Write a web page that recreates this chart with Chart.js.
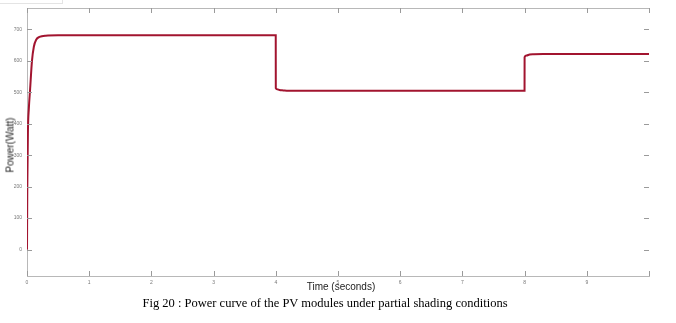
<!DOCTYPE html>
<html>
<head>
<meta charset="utf-8">
<script src="https://cdn.jsdelivr.net/npm/chart.js@4.4.1/dist/chart.umd.min.js"></script>
<style>
html,body{margin:0;padding:0;background:#fff;}
#wrap{position:relative;width:676px;height:323px;overflow:hidden;}
#c{position:absolute;left:0;top:0;}
.t{position:absolute;white-space:nowrap;}
#xt{font:10px "Liberation Sans",Arial,sans-serif;color:#222;left:341px;top:281px;transform:translateX(-50%);}
#yt{font:10px "Liberation Sans",Arial,sans-serif;color:#222;left:10px;top:145px;transform:translate(-50%,-50%) rotate(-90deg);}
#cap{font:12.5px "Liberation Serif","Times New Roman",serif;color:#000;left:325px;top:296px;transform:translateX(-50%);}
#box{position:absolute;left:-1px;top:-20px;width:62px;height:22px;border:1px solid #e4e4e4;}
</style>
</head>
<body>
<div id="wrap">
<canvas id="c" width="676" height="323"></canvas>
<div id="box"></div>
<div class="t" id="xt">Time (seconds)</div>
<div class="t" id="yt">Power(Watt)</div>
<div class="t" id="cap">Fig 20 : Power curve of the PV modules under partial shading conditions</div>
</div>
<script>
const timeSec = [0, 0.005, 0.015, 0.03, 0.05, 0.08, 0.11, 0.15, 0.2, 0.3, 0.5, 3.999, 4.0, 4.02, 4.06, 4.12, 4.2, 4.4, 7.999, 8.0, 8.03, 8.08, 8.15, 8.3, 10];
const powerW  = [0, 200, 377, 450, 510, 600, 645, 668, 676, 680, 681, 681, 513, 510, 507, 506, 505, 505, 505, 612, 617, 620, 621, 622, 622];
const xTicks = [0,1,2,3,4,5,6,7,8,9,10];
const yTicks = [0,100,200,300,400,500,600,700];

const points = timeSec.map((t,i)=>({x:t,y:powerW[i]}));

const innerTicks = {
  id:'innerTicks',
  afterDraw(chart){
    const {ctx, chartArea:a, scales:{x,y}} = chart;
    ctx.save();
    ctx.strokeStyle = '#b8b8b8';
    ctx.lineWidth = 1;
    ctx.beginPath();
    ctx.moveTo(a.left, a.top+0.5); ctx.lineTo(a.right, a.top+0.5);
    ctx.stroke();
    ctx.strokeStyle = '#9a9a9a';
    ctx.beginPath();
    xTicks.forEach(v=>{
      const px = Math.round(x.getPixelForValue(v))+0.5;
      ctx.moveTo(px, a.bottom); ctx.lineTo(px, a.bottom-5);
      ctx.moveTo(px, a.top); ctx.lineTo(px, a.top+5);
    });
    yTicks.forEach(v=>{
      const py = Math.round(y.getPixelForValue(v))+0.5;
      ctx.moveTo(a.left, py); ctx.lineTo(a.left+5, py);
      ctx.moveTo(a.right, py); ctx.lineTo(a.right-5, py);
    });
    ctx.stroke();
    ctx.restore();
  }
};

new Chart(document.getElementById('c'), {
  type:'line',
  data:{datasets:[{
    data:points,
    borderColor:'#A2142F',
    borderWidth:2,
    pointRadius:0,
    tension:0.35,
    cubicInterpolationMode:'monotone',
    fill:false
  }]},
  options:{
    responsive:false,
    animation:false,
    layout:{padding:{left:0,top:6,right:27,bottom:0}},
    plugins:{legend:{display:false},tooltip:{enabled:false}},
    scales:{
      x:{
        type:'linear', min:0, max:10,
        afterBuildTicks(s){ s.ticks = xTicks.map(v=>({value:v})); },
        afterFit(s){ s.height = 47; },
        grid:{drawOnChartArea:false, drawTicks:false},
        border:{color:'#b8b8b8', width:1},
        ticks:{padding:4, color:'#777', font:{size:5, family:'"Liberation Sans",Arial'}, maxRotation:0,
          callback:(v)=> v===10 ? '' : String(v)}
      },
      y:{
        type:'linear', min:-84, max:768,
        afterBuildTicks(s){ s.ticks = yTicks.map(v=>({value:v})); },
        afterFit(s){ s.width = 27; },
        grid:{drawOnChartArea:false, drawTicks:false},
        border:{color:'#b8b8b8', width:1},
        ticks:{padding:5, color:'#777', font:{size:5, family:'"Liberation Sans",Arial'}}
      }
    }
  },
  plugins:[innerTicks]
});
</script>
</body>
</html>
